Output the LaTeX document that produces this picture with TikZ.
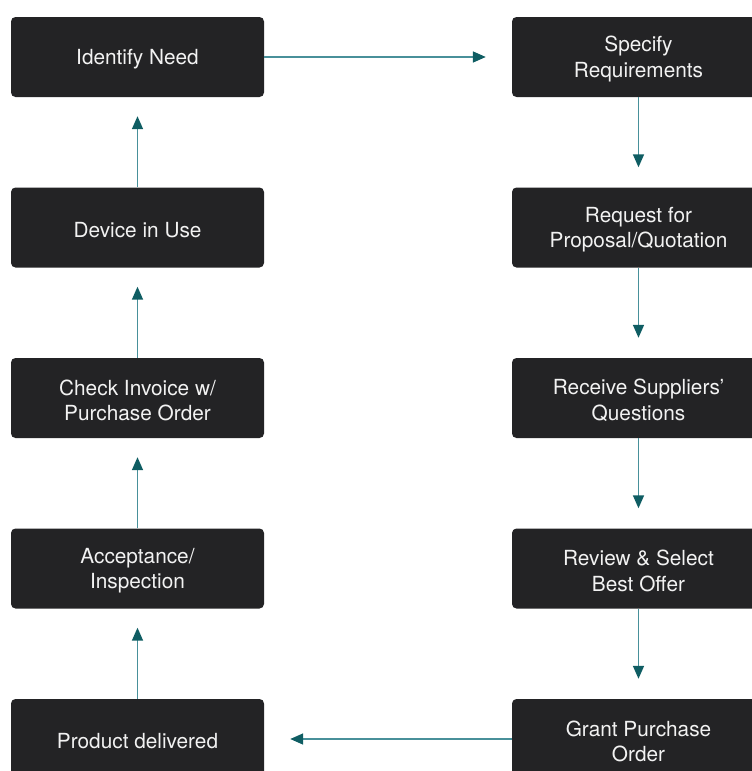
\documentclass[tikz,border=0pt]{standalone}
\usepackage{fontspec}
\setmainfont{TeX Gyre Heros}
\usetikzlibrary{arrows.meta}

\definecolor{boxfill}{HTML}{232325}
\definecolor{boxtext}{HTML}{F2F2F2}
\definecolor{linkline}{HTML}{48909A}
\definecolor{linkhead}{HTML}{0F5D63}

% taller first line so the text block sits a little lower in its box
\newcommand{\toproom}{\rule{0pt}{20pt}}

\tikzset{
  stage/.style={
    fill=boxfill, rounded corners=4.5pt,
    minimum width=253pt, minimum height=80pt,
    text=boxtext, align=center, inner sep=0pt,
    font=\fontsize{20.8}{25.5}\selectfont
  },
  link/.style={
    draw=linkline, line width=1.6pt,
    -{Triangle[length=13pt,width=11pt,color=linkhead]}
  }
}

\begin{document}
\begin{tikzpicture}[x=1pt,y=-1pt]
  \useasboundingbox (0,0) rectangle (752,771);
  \clip (0,0) rectangle (752,771);

  % left column
  \node[stage] (need)    at (137.5,57)    {\toproom Identify Need};
  \node[stage] (use)     at (137.5,227.5) {\toproom Device in Use};
  \node[stage] (invoice) at (137.5,398)   {\toproom Check Invoice w/\\Purchase Order};
  \node[stage] (accept)  at (137.5,568.5) {\toproom Acceptance/\\Inspection};
  \node[stage] (deliver) at (137.5,739)   {\toproom Product delivered};

  % right column
  \node[stage] (spec)    at (638.5,57)    {\toproom Specify\\Requirements};
  \node[stage] (rfq)     at (638.5,227.5) {\toproom Request for\\Proposal/Quotation};
  \node[stage] (quest)   at (638.5,398)   {\toproom Receive Suppliers’\\Questions};
  \node[stage] (review)  at (638.5,568.5) {\toproom Review \& Select\\Best Offer};
  \node[stage] (grant)   at (638.5,739)   {\toproom Grant Purchase\\Order};

  % connectors
  \draw[link, shorten >=26pt] (need.east) -- (spec.west);
  \draw[link, shorten >=20pt] (spec.south) -- (rfq.north);
  \draw[link, shorten >=20pt] (rfq.south) -- (quest.north);
  \draw[link, shorten >=20pt] (quest.south) -- (review.north);
  \draw[link, shorten >=20pt] (review.south) -- (grant.north);
  \draw[link, shorten >=26pt] (grant.west) -- (deliver.east);
  \draw[link, shorten >=19pt] (deliver.north) -- (accept.south);
  \draw[link, shorten >=19pt] (accept.north) -- (invoice.south);
  \draw[link, shorten >=19pt] (invoice.north) -- (use.south);
  \draw[link, shorten >=19pt] (use.north) -- (need.south);
\end{tikzpicture}
\end{document}
